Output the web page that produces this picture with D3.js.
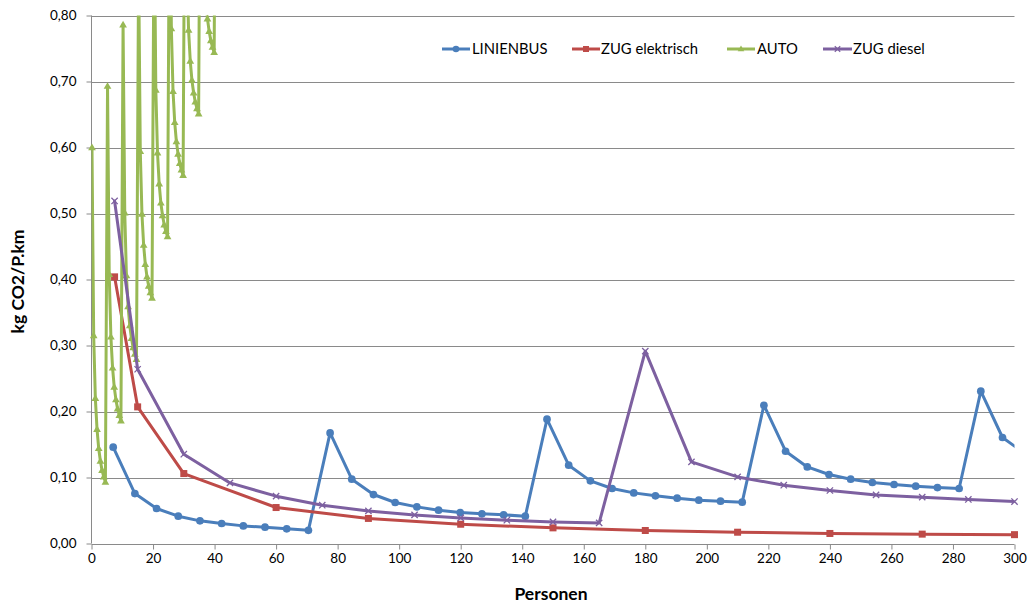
<!DOCTYPE html>
<html>
<head>
<meta charset="utf-8">
<script src="https://cdn.jsdelivr.net/npm/d3@7"></script>
<style>
  html, body { margin: 0; padding: 0; background: #fff; }
  svg { display: block; font-family: Lato, "Open Sans", sans-serif; }
</style>
</head>
<body>
<svg id="chart" width="1035" height="606"></svg>
<script>
// ---------------- DATA ----------------
const seriesNames = ["LINIENBUS", "ZUG elektrisch", "AUTO", "ZUG diesel"];

const xTicks = [0, 20, 40, 60, 80, 100, 120, 140, 160, 180, 200, 220, 240, 260, 280, 300];
const yTicks = [0, 0.1, 0.2, 0.3, 0.4, 0.5, 0.6, 0.7, 0.8];

const busX = [7.05, 14.1, 21.15, 28.2, 35.25, 42.3, 49.35, 56.4, 63.45, 70.5,
  77.55, 84.6, 91.65, 98.7, 105.75, 112.8, 119.85, 126.9, 133.95, 141,
  148.05, 155.1, 162.15, 169.2, 176.25, 183.3, 190.35, 197.4, 204.45, 211.5,
  218.55, 225.6, 232.65, 239.7, 246.75, 253.8, 260.85, 267.9, 274.95, 282,
  289.05, 296.1, 303.15];
const busY = [0.146, 0.0757, 0.053, 0.0414, 0.0343, 0.0303, 0.0267, 0.0247, 0.0222, 0.0200,
  0.1676, 0.0974, 0.0742, 0.0621, 0.0555, 0.0505, 0.0470, 0.0449, 0.0434, 0.0414,
  0.1883, 0.1186, 0.0949, 0.0833, 0.0767, 0.0722, 0.0686, 0.0656, 0.0641, 0.0626,
  0.2095, 0.1398, 0.1160, 0.1045, 0.0974, 0.0924, 0.0894, 0.0868, 0.0848, 0.0833,
  0.2308, 0.1606, 0.137];

const zugElX = [7.5, 15, 30, 60, 90, 120, 150, 180, 210, 240, 270, 300];
const zugElY = [0.404, 0.207, 0.106, 0.0545, 0.038, 0.0292, 0.0237, 0.0197, 0.0171, 0.0152, 0.0142, 0.0134];

const autoX = [
  0.16, 0.71, 1.25, 1.80, 2.34, 2.89, 3.43, 3.98, 4.52,
  5.21, 5.76, 6.30, 6.85, 7.39, 7.94, 8.48, 9.03, 9.57,
  10.26, 10.81, 11.35, 11.90, 12.44, 12.99, 13.53, 14.08, 14.62,
  15.31, 15.86, 16.40, 16.95, 17.49, 18.04, 18.58, 19.13, 19.67,
  20.36, 20.91, 21.45, 22.00, 22.54, 23.09, 23.63, 24.18, 24.72,
  25.41, 25.96, 26.50, 27.05, 27.59, 28.14, 28.68, 29.23, 29.77,
  30.46, 31.01, 31.55, 32.10, 32.64, 33.19, 33.73, 34.28, 34.82,
  35.51, 36.06, 36.60, 37.15, 37.69, 38.24, 38.78, 39.33, 39.87,
  40.56];
const autoY = [
  0.600, 0.315, 0.220, 0.173, 0.144, 0.125, 0.111, 0.101, 0.093,
  0.693, 0.408, 0.313, 0.266, 0.237, 0.218, 0.204, 0.194, 0.186,
  0.786, 0.501, 0.406, 0.359, 0.330, 0.311, 0.297, 0.287, 0.279,
  0.879, 0.594, 0.499, 0.452, 0.423, 0.404, 0.390, 0.380, 0.372,
  0.972, 0.687, 0.592, 0.545, 0.516, 0.497, 0.483, 0.473, 0.465,
  1.065, 0.780, 0.685, 0.638, 0.609, 0.590, 0.576, 0.566, 0.558,
  1.158, 0.873, 0.778, 0.731, 0.702, 0.683, 0.669, 0.659, 0.651,
  1.251, 0.966, 0.871, 0.824, 0.795, 0.776, 0.762, 0.752, 0.744,
  1.344];

const zugDX = [7.5, 15, 30, 45, 60, 75, 90, 105, 120, 135, 150, 165, 180, 195, 210, 225, 240, 255, 270, 285, 300];
const zugDY = [0.519, 0.264, 0.1353, 0.0918, 0.0717, 0.058, 0.0494, 0.0433, 0.0388, 0.0353, 0.0327,
  0.0312, 0.2914, 0.1236, 0.1009, 0.0883, 0.0803, 0.0736, 0.0702, 0.0667, 0.0636];

// ---------------- LAYOUT ----------------
const W = 1035, H = 606;
const plot = { left: 91.5, right: 1014.5, top: 15.5, bottom: 543.5 };
const colors = { bus: "#4A7EBB", el: "#BE4B48", auto: "#98B954", diesel: "#7D60A0" };
const gridColor = "#8a8a8a";
const fontSize = 13.5;
const legendFontSize = 14.8;
const titleFontSize = 17.5;

const svg = d3.select("#chart");
const x = d3.scaleLinear().domain([0, 300]).range([plot.left, plot.right]);
const y = d3.scaleLinear().domain([0, 0.8]).range([plot.bottom, plot.top]);
const fmt = d => d3.format(".2f")(d).replace(".", ",");

// gridlines
svg.append("g").selectAll("line").data(yTicks.filter(d => d > 0)).join("line")
  .attr("x1", plot.left).attr("x2", plot.right)
  .attr("y1", d => Math.round(y(d)) + 0.5).attr("y2", d => Math.round(y(d)) + 0.5)
  .attr("stroke", gridColor).attr("stroke-width", 1);

// x axis
const xAxis = d3.axisBottom(x).tickValues(xTicks).tickSize(5).tickPadding(4).tickFormat(d3.format("d"));
const gx = svg.append("g").attr("transform", `translate(0,${Math.round(plot.bottom) + 0.5})`).call(xAxis);
gx.select(".domain").attr("stroke", gridColor).attr("d", `M${plot.left},0H${plot.right}`);
gx.selectAll(".tick line").attr("stroke", gridColor);
gx.selectAll(".tick text").attr("font-size", fontSize).attr("fill", "#000").attr("font-family", "Lato");

// y axis
const yAxis = d3.axisLeft(y).tickValues(yTicks).tickSize(5).tickPadding(10).tickFormat(fmt);
const gy = svg.append("g").attr("transform", `translate(${Math.floor(plot.left) + 0.5},0)`).call(yAxis);
gy.select(".domain").attr("stroke", gridColor).attr("d", `M0,${plot.top}V${plot.bottom}`);
gy.selectAll(".tick line").attr("stroke", gridColor);
gy.selectAll(".tick text").attr("font-size", fontSize).attr("fill", "#000").attr("font-family", "Lato");

// axis titles
svg.append("text").attr("x", 551).attr("y", 600).attr("text-anchor", "middle")
  .attr("font-weight", "bold").attr("font-size", titleFontSize).text("Personen");
svg.append("text").attr("transform", `translate(24,${(plot.top + plot.bottom) / 2 + 2}) rotate(-90)`)
  .attr("text-anchor", "middle").attr("font-weight", "bold").attr("font-size", titleFontSize).text("kg CO2/P.km");

// clip
svg.append("defs").append("clipPath").attr("id", "plotclip").append("rect")
  .attr("x", plot.left).attr("y", plot.top).attr("width", plot.right - plot.left).attr("height", plot.bottom - plot.top);

const series = [
  { name: seriesNames[0], xs: busX, ys: busY, color: colors.bus, marker: "circle" },
  { name: seriesNames[1], xs: zugElX, ys: zugElY, color: colors.el, marker: "square" },
  { name: seriesNames[2], xs: autoX, ys: autoY, color: colors.auto, marker: "triangle" },
  { name: seriesNames[3], xs: zugDX, ys: zugDY, color: colors.diesel, marker: "x" }
];

const line = d3.line().x(d => x(d[0])).y(d => y(d[1]));

function drawMarker(g, type, color, px, py, s) {
  if (type === "circle") {
    g.append("circle").attr("cx", px).attr("cy", py).attr("r", s * 0.55).attr("fill", color);
  } else if (type === "square") {
    g.append("rect").attr("x", px - s * 0.5).attr("y", py - s * 0.5).attr("width", s).attr("height", s).attr("fill", color);
  } else if (type === "triangle") {
    const h = s * 0.95;
    g.append("path").attr("d", `M${px},${py - h * 0.6}L${px + s * 0.55},${py + h * 0.4}L${px - s * 0.55},${py + h * 0.4}Z`).attr("fill", color);
  } else if (type === "x") {
    const r = s * 0.45;
    g.append("path").attr("d", `M${px - r},${py - r}L${px + r},${py + r}M${px - r},${py + r}L${px + r},${py - r}`)
      .attr("stroke", color).attr("stroke-width", 1.3).attr("fill", "none");
  }
}

series.forEach(s => {
  const pts = s.xs.map((v, i) => [v, s.ys[i]]);
  const g = svg.append("g");
  g.append("path").attr("d", line(pts)).attr("fill", "none").attr("stroke", s.color)
    .attr("stroke-width", 3).attr("stroke-linejoin", "round").attr("stroke-linecap", "round")
    .attr("clip-path", "url(#plotclip)");
  const mg = g.append("g");
  pts.filter(p => p[0] <= 300 && p[1] <= 0.805).forEach(p => drawMarker(mg, s.marker, s.color, x(p[0]), y(p[1]), 7));
});

// legend
const legendItems = [
  { s: series[0], x0: 442, x1: 470, tx: 472 },
  { s: series[1], x0: 572, x1: 600, tx: 601 },
  { s: series[2], x0: 727, x1: 755, tx: 757 },
  { s: series[3], x0: 823, x1: 852, tx: 853 }
];
const lg = svg.append("g");
legendItems.forEach(it => {
  const ly = 49;
  lg.append("line").attr("x1", it.x0).attr("x2", it.x1).attr("y1", ly).attr("y2", ly)
    .attr("stroke", it.s.color).attr("stroke-width", 3);
  drawMarker(lg, it.s.marker, it.s.color, (it.x0 + it.x1) / 2, ly, 6);
  lg.append("text").attr("x", it.tx).attr("y", ly).attr("dy", "0.35em").attr("font-size", legendFontSize)
    .attr("fill", "#000").text(it.s.name);
});
</script>
</body>
</html>
